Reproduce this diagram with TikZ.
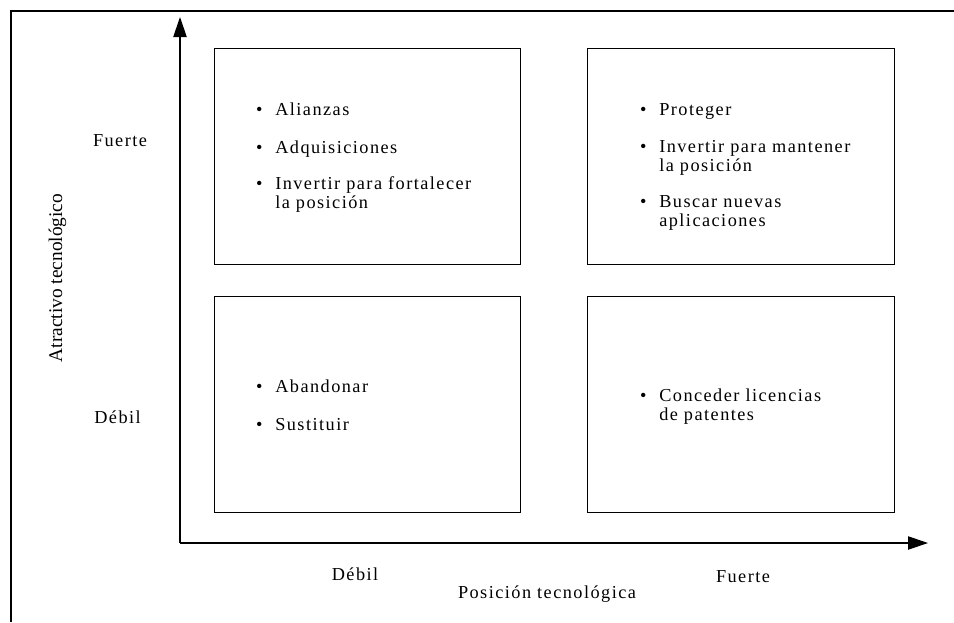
\documentclass[tikz,border=0pt]{standalone}
\usepackage{fontspec}
\usetikzlibrary{arrows.meta}
\newfontfamily\spacedserif{Liberation Serif}[LetterSpace=8]
\newfontfamily\plainserif{Liberation Serif}
\newcommand\itembullet{\llap{\textbullet\hspace{9.5pt}}}
\begin{document}
\begin{tikzpicture}[x=0.75pt,y=-0.75pt,
  frame/.style={line width=1.5pt},
  axis/.style={line width=0.9pt,-{Triangle[length=15pt,width=10pt]}},
  quad/.style={draw,line width=0.9pt,inner sep=0pt,minimum width=230pt,minimum height=162pt},
  lbl/.style={font=\spacedserif\fontsize{13.7}{13.9}\selectfont,inner sep=0pt,anchor=base},
  item/.style={font=\spacedserif\fontsize{13.7}{13.9}\selectfont,inner sep=0pt,anchor=base west,align=left}]
\useasboundingbox (0,0) rectangle (954,622);
% outer frame: top and left edges only
\draw[frame] (954,11) -- (11,11) -- (11,622);
% axes
\coordinate (O) at (180,543);
\coordinate (ytip) at (180,17);
\coordinate (xtip) at (928,543);
\draw[axis] (O) -- (ytip);
\draw[axis] (O) -- (xtip);
% the four quadrants
\node[quad] (tl) at (367.5,156.5) {};
\node[quad] (tr) at (741,156.5) {};
\node[quad] (bl) at (367.5,404.5) {};
\node[quad] (br) at (741,404.5) {};
% axis labels
\node[font=\plainserif\fontsize{14.5}{16}\selectfont,rotate=90,inner sep=0pt] (ylab) at (57.5,278) {Atractivo tecnológico};
\node[lbl] (yhi) at (120,146) {Fuerte};
\node[lbl] (ylo) at (117.5,423) {Débil};
\node[lbl] (xlo) at (355,580) {Débil};
\node[lbl] (xlab) at (547,598) {Posición tecnológica};
\node[lbl] (xhi) at (743,582) {Fuerte};
% strategies, top left (two-line items sit on the baseline of their last line)
\node[item] (tl1) at (275,115) {\itembullet Alianzas};
\node[item] (tl2) at (275,153) {\itembullet Adquisiciones};
\node[item] (tl3) at (275,208.5) {\itembullet Invertir para fortalecer\\la posición};
% top right
\node[item] (tr1) at (659,115) {\itembullet Proteger};
\node[item] (tr2) at (659,171.5) {\itembullet Invertir para mantener\\la posición};
\node[item] (tr3) at (659,226.5) {\itembullet Buscar nuevas\\aplicaciones};
% bottom left
\node[item] (bl1) at (275,392) {\itembullet Abandonar};
\node[item] (bl2) at (275,430) {\itembullet Sustituir};
% bottom right
\node[item] (br1) at (659,420.5) {\itembullet Conceder licencias\\de patentes};
\end{tikzpicture}
\end{document}
